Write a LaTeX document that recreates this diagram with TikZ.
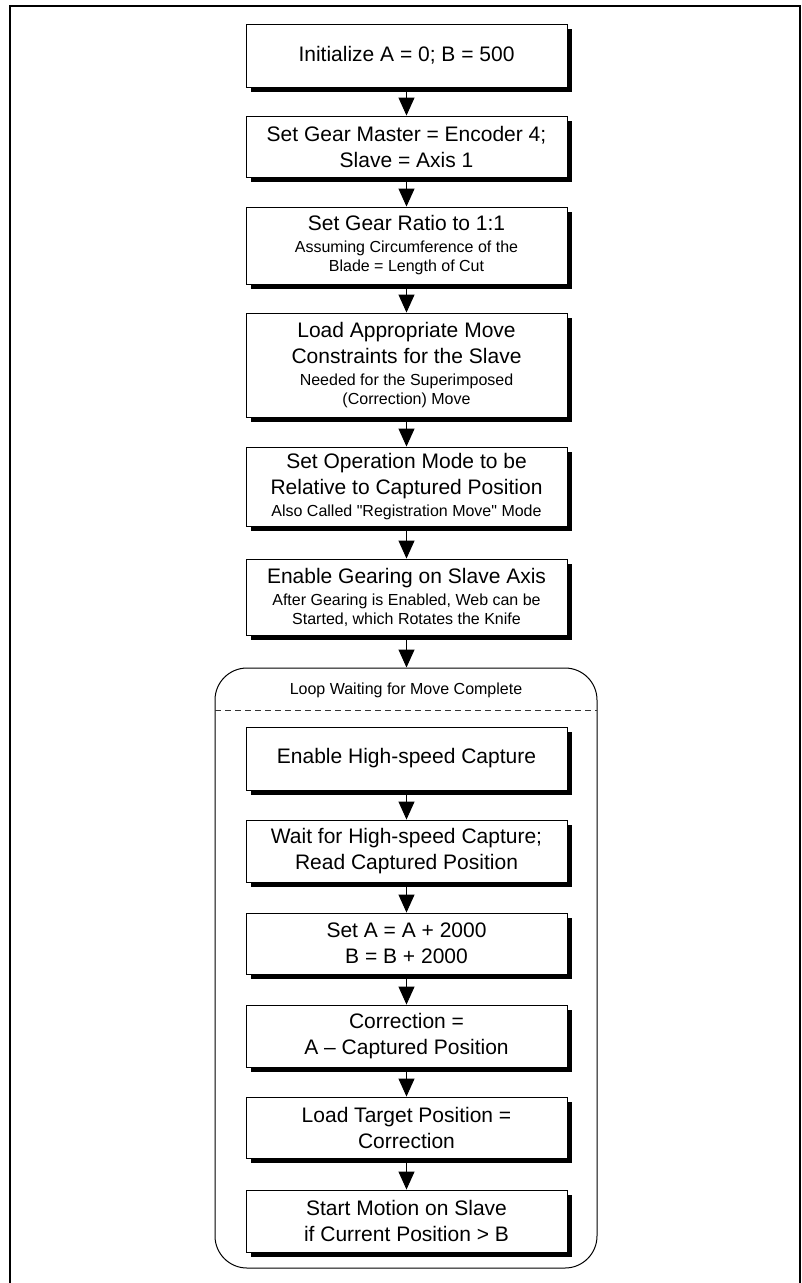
\documentclass[tikz,border=0pt]{standalone}
\usepackage{fontspec}
\setmainfont{Liberation Sans}[Ligatures=TeXOff]
\usetikzlibrary{arrows.meta,shadows}

% type sizes: step titles and the smaller explanatory lines
\newcommand\titletxt{\fontsize{21}{26}\selectfont}
\newcommand\notetxt{\fontsize{16}{26}\selectfont}

\tikzset{
  stepbox/.style={draw=black, line width=0.9pt, fill=white,
    minimum width=321pt, inner sep=0pt, align=center,
    font=\titletxt,
    drop shadow={shadow xshift=4.5pt, shadow yshift=-4.5pt, opacity=1, fill=black}},
  loopbox/.style={draw=black, line width=1pt, rounded corners=32pt,
    minimum width=382pt, minimum height=600pt, inner sep=0pt},
  flow/.style={draw=black, line width=1pt, -{Triangle[width=16pt,length=18pt]}},
  frameline/.style={draw=black, line width=2pt},
}

\begin{document}
\begin{tikzpicture}[x=1pt,y=-1pt]
\useasboundingbox (0,0) rectangle (802,1283);

% outer page frame, open at the bottom
\draw[frameline] (10,1283) -- (10,6) -- (800,6) -- (800,1283);

% set-up sequence
\node[stepbox, minimum height=63pt] (b1) at (406.5,55.5) {Initialize A = 0; B = 500};
\node[stepbox, minimum height=61pt] (b2) at (406.5,146.5) {Set Gear Master = Encoder 4;\\Slave = Axis 1};
\node[stepbox, minimum height=77pt] (b3) at (406.5,245.5)
  {Set Gear Ratio to 1:1\\[-4pt]{\notetxt Assuming Circumference of the}\\[-7pt]{\notetxt Blade = Length of Cut}};
\node[stepbox, minimum height=104pt] (b4) at (406.5,365)
  {Load Appropriate Move\\Constraints for the Slave\\[-4pt]{\notetxt Needed for the Superimposed}\\[-7pt]{\notetxt (Correction) Move}};
\node[stepbox, minimum height=79pt] (b5) at (406.5,486.5)
  {Set Operation Mode to be\\Relative to Captured Position\\[-4pt]{\notetxt Also Called "Registration Move" Mode}};
\node[stepbox, minimum height=76pt] (b6) at (406.5,597)
  {Enable Gearing on Slave Axis\\[-4pt]{\notetxt After Gearing is Enabled, Web can be}\\[-7pt]{\notetxt Started, which Rotates the Knife}};

% loop container
\node[loopbox] (loop) at (406,968) {};
\node[font=\notetxt, inner sep=0pt] (looplabel) at (406,690) {Loop Waiting for Move Complete};
\coordinate (sepL) at (215,710);
\coordinate (sepR) at (597,710);
\draw[black!80, line width=1pt, dash pattern=on 6pt off 4pt] (sepL) -- (sepR);

% steps inside the loop
\node[stepbox, minimum height=63pt] (c1) at (406.5,758.5) {Enable High-speed Capture};
\node[stepbox, minimum height=62pt] (c2) at (406.5,851) {Wait for High-speed Capture;\\Read Captured Position};
\node[stepbox, minimum height=61pt] (c3) at (406.5,943.5) {Set A = A + 2000\\B = B + 2000};
\node[stepbox, minimum height=62pt] (c4) at (406.5,1036) {Correction =\\A – Captured Position};
\node[stepbox, minimum height=61pt] (c5) at (406.5,1127.5) {Load Target Position =\\Correction};
\node[stepbox, minimum height=62pt] (c6) at (406.5,1221) {Start Motion on Slave\\if Current Position > B};

% connectors
\draw[flow] (b1) -- (b2);
\draw[flow] (b2) -- (b3);
\draw[flow] (b3) -- (b4);
\draw[flow] (b4) -- (b5);
\draw[flow] (b5) -- (b6);
\draw[flow] (b6.south) -- (b6.south |- loop.north);
\draw[flow] (c1) -- (c2);
\draw[flow] (c2) -- (c3);
\draw[flow] (c3) -- (c4);
\draw[flow] (c4) -- (c5);
\draw[flow] (c5) -- (c6);
\end{tikzpicture}
\end{document}
